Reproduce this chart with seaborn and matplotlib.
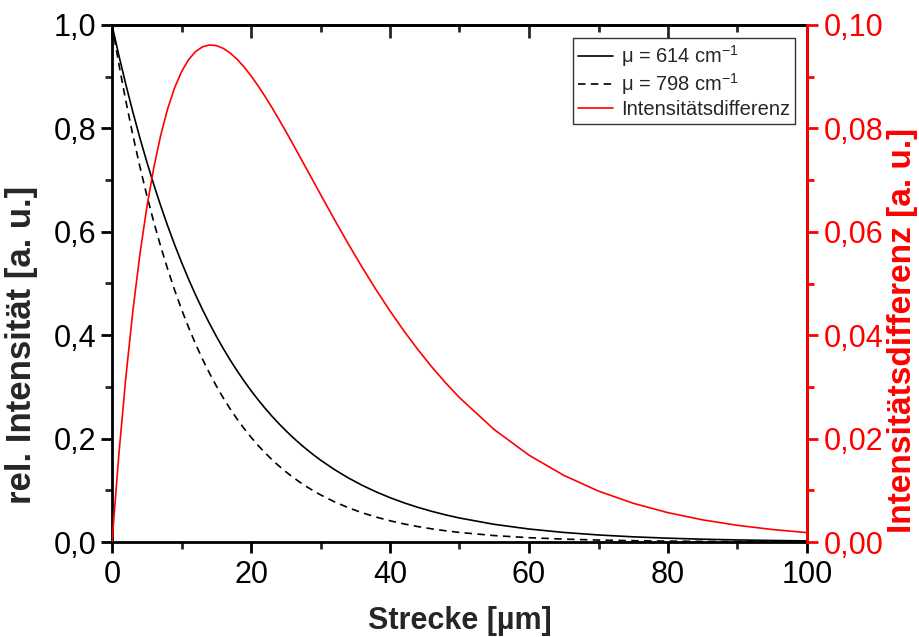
import matplotlib
matplotlib.use("Agg")
import matplotlib.pyplot as plt
from matplotlib import font_manager
from matplotlib.ticker import FuncFormatter, MultipleLocator
import seaborn as sns
import pandas as pd

# ---- data ----
strecke = [0, 1, 2, 3, 4, 5, 6, 7, 8, 9, 10, 11, 12, 13, 14, 15, 16, 17, 18, 19, 20,
           21, 22, 23, 24, 25, 26, 27, 28, 29, 30, 32, 34, 36, 38, 40, 42, 44, 46, 48, 50,
           55, 60, 65, 70, 75, 80, 85, 90, 95, 100]
int_614 = [1.0, 0.940447, 0.884440, 0.831769, 0.782235, 0.735651, 0.691841, 0.650640,
           0.611893, 0.575453, 0.541183, 0.508954, 0.478645, 0.450140, 0.423333, 0.398122,
           0.374413, 0.352115, 0.331145, 0.311424, 0.292878, 0.275436, 0.259033, 0.243607,
           0.229100, 0.215456, 0.202625, 0.190558, 0.179210, 0.168537, 0.158500, 0.140184,
           0.123984, 0.109657, 0.096985, 0.085777, 0.075865, 0.067098, 0.059344, 0.052486,
           0.046421, 0.034150, 0.025122, 0.018481, 0.013596, 0.010002, 0.007358, 0.005413,
           0.003982, 0.002929, 0.002155]
int_798 = [1.0, 0.923301, 0.852485, 0.787100, 0.726730, 0.670991, 0.619527, 0.572010,
           0.528137, 0.487629, 0.450229, 0.415697, 0.383813, 0.354375, 0.327195, 0.302099,
           0.278928, 0.257535, 0.237782, 0.219544, 0.202705, 0.187158, 0.172803, 0.159549,
           0.147312, 0.136013, 0.125581, 0.115950, 0.107057, 0.098845, 0.091263, 0.077801,
           0.066324, 0.056540, 0.048200, 0.041089, 0.035028, 0.029861, 0.025456, 0.021701,
           0.018500, 0.012413, 0.008329, 0.005589, 0.003750, 0.002516, 0.001688, 0.001133,
           0.000760, 0.000510, 0.000342]
differenz = [0.0, 0.017146, 0.031955, 0.044669, 0.055505, 0.064660, 0.072314, 0.078630,
             0.083756, 0.087824, 0.090954, 0.093257, 0.094832, 0.095765, 0.096138, 0.096023,
             0.095485, 0.094580, 0.093363, 0.091880, 0.090173, 0.088278, 0.086230, 0.084058,
             0.081788, 0.079443, 0.077044, 0.074608, 0.072153, 0.069692, 0.067237, 0.062383,
             0.057660, 0.053117, 0.048785, 0.044688, 0.040837, 0.037237, 0.033888, 0.030785,
             0.027921, 0.021737, 0.016793, 0.012892, 0.009846, 0.007486, 0.005670, 0.004280,
             0.003222, 0.002419, 0.001813]
labels = ["μ = 614 cm$^{\\mathsf{-1}}$", "μ = 798 cm$^{\\mathsf{-1}}$", "Intensitätsdifferenz"]
x_ticks = [0, 20, 40, 60, 80, 100]
yl_ticks = [0.0, 0.2, 0.4, 0.6, 0.8, 1.0]
yr_ticks = [0.00, 0.02, 0.04, 0.06, 0.08, 0.10]

sns.set_theme(style="ticks")

names = {f.name for f in font_manager.fontManager.ttflist}
def pick(cands):
    for c in cands:
        if c in names:
            return c
    return "DejaVu Sans"
narrow = pick(["Liberation Sans Narrow", "Liberation Sans", "Roboto"])
regular = pick(["Liberation Sans", "Roboto"])
plt.rcParams["font.family"] = [narrow, "DejaVu Sans"]
plt.rcParams["mathtext.fontset"] = "custom"
plt.rcParams["mathtext.rm"] = regular
plt.rcParams["mathtext.sf"] = regular

W, H = 919, 637
fig = plt.figure(figsize=(W / 100, H / 100), dpi=100)
L, R, T, B = 112, 807, 25, 542
ax = fig.add_axes([L / W, 1 - B / H, (R - L) / W, (B - T) / H])
ax2 = ax.twinx()

df = pd.DataFrame({"x": strecke, "a": int_614, "b": int_798, "d": differenz})
lw = 1.2
sns.lineplot(data=df, x="x", y="a", ax=ax, color="black", lw=lw, label=labels[0], legend=False)
sns.lineplot(data=df, x="x", y="b", ax=ax, color="black", lw=lw, label=labels[1], legend=False)
ax.lines[1].set_linestyle((0, (4.5, 3.2)))
sns.lineplot(data=df, x="x", y="d", ax=ax2, color="red", lw=lw, label=labels[2], legend=False)

ax.set_xlim(0, 100)
ax.set_ylim(0, 1.0)
ax2.set_ylim(0, 0.10)
ax.set_xticks(x_ticks)
ax.set_yticks(yl_ticks)
ax2.set_yticks(yr_ticks)
ax.xaxis.set_minor_locator(MultipleLocator(10))
ax.yaxis.set_minor_locator(MultipleLocator(0.1))
ax2.yaxis.set_minor_locator(MultipleLocator(0.01))
ax.yaxis.set_major_formatter(FuncFormatter(lambda v, p: f"{v:.1f}".replace(".", ",")))
ax2.yaxis.set_major_formatter(FuncFormatter(lambda v, p: f"{v:.2f}".replace(".", ",")))

spw = 2.0
for s in ax.spines.values():
    s.set_linewidth(spw)
    s.set_color("black")
for s in ax2.spines.values():
    s.set_linewidth(spw)
ax2.spines["right"].set_color("red")
ax2.spines["left"].set_visible(False)
ax2.spines["top"].set_visible(False)
ax2.spines["bottom"].set_visible(False)

fs_tick = 22
ax.tick_params(axis="both", which="major", direction="out", length=8, width=spw,
               labelsize=fs_tick, pad=3, colors="black")
ax.tick_params(axis="x", which="major", pad=5)
ax.tick_params(axis="both", which="minor", direction="out", length=5, width=spw)
ax2.tick_params(axis="y", which="major", direction="out", length=8, width=spw,
                labelsize=fs_tick, pad=4, colors="red")
ax2.tick_params(axis="y", which="minor", direction="out", length=5, width=spw, colors="red")
# top ticks inward via secondary axis
sec = ax.secondary_xaxis("top")
sec.set_xticks(x_ticks)
sec.xaxis.set_minor_locator(MultipleLocator(10))
sec.tick_params(axis="x", which="major", direction="in", length=9, width=spw, labeltop=False)
sec.tick_params(axis="x", which="minor", direction="in", length=5, width=spw)
sec.spines["top"].set_linewidth(spw)
ax.tick_params(axis="x", which="both", top=False)

ax.set_xlabel("Strecke [µm]", fontsize=22, fontweight="bold")
ax.xaxis.set_label_coords(0.5, (B - 621) / (B - T))
ax.xaxis.label.set_va("center")
ax.set_ylabel("rel. Intensität [a. u.]", fontsize=25, fontweight="bold")
ax.yaxis.set_label_coords((22 - L) / (R - L), (B - 345) / (B - T))
ax.yaxis.label.set_va("center")
ax2.set_ylabel("Intensitätsdifferenz [a. u.]", fontsize=24, fontweight="bold", color="red",
               rotation=90)
ax2.yaxis.set_label_coords((903 - L) / (R - L), (B - 330) / (B - T))
ax2.yaxis.label.set_va("center")

h1, l1 = ax.get_legend_handles_labels()
h2, l2 = ax2.get_legend_handles_labels()
leg = ax2.legend(h1 + h2, labels, loc="upper right",
                 bbox_to_anchor=((795 - L) / (R - L), (B - 38) / (B - T)),
                 prop={"family": regular, "size": 14.5}, frameon=True, fancybox=False,
                 edgecolor="#333333", framealpha=1, borderpad=0.25, labelspacing=0.12,
                 handlelength=1.75, handletextpad=0.4, borderaxespad=0)
leg.get_frame().set_linewidth(1.0)

fig.savefig("out.png", dpi=100)
